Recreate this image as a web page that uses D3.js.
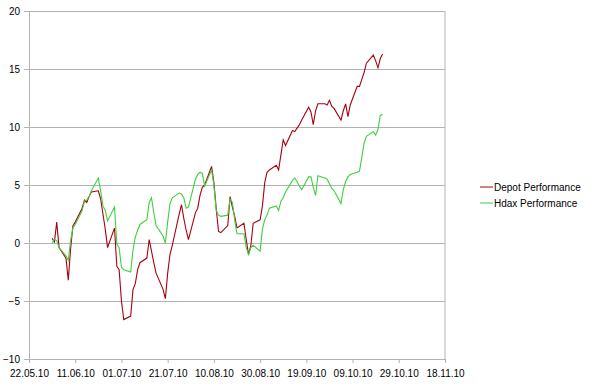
<!DOCTYPE html>
<html>
<head>
<meta charset="utf-8">
<script src="https://cdn.jsdelivr.net/npm/d3@7"></script>
<style>
  body { margin: 0; background: #fff; }
  text { font-family: Arial, "Liberation Sans", sans-serif; font-size: 10px; fill: #000; }
</style>
</head>
<body>
<svg id="chart"></svg>
<script>
// trading days, dd.mm.yy
let dates = [
  '01.06.10','02.06.10','03.06.10','04.06.10','07.06.10','08.06.10','09.06.10','10.06.10','11.06.10','14.06.10','15.06.10',
  '16.06.10','17.06.10','18.06.10','21.06.10','22.06.10','23.06.10','24.06.10','25.06.10','28.06.10','29.06.10','30.06.10',
  '01.07.10','02.07.10','05.07.10','06.07.10','07.07.10','08.07.10','09.07.10','12.07.10','13.07.10','14.07.10','15.07.10',
  '16.07.10','19.07.10','20.07.10','21.07.10','22.07.10','23.07.10','26.07.10','27.07.10','28.07.10','29.07.10','30.07.10',
  '02.08.10','03.08.10','04.08.10','05.08.10','06.08.10','09.08.10','10.08.10','11.08.10','12.08.10','13.08.10','16.08.10',
  '17.08.10','18.08.10','19.08.10','20.08.10','23.08.10','24.08.10','25.08.10','26.08.10','27.08.10','30.08.10','31.08.10',
  '01.09.10','02.09.10','03.09.10','06.09.10','07.09.10','08.09.10','09.09.10','10.09.10','13.09.10','14.09.10','15.09.10',
  '16.09.10','17.09.10','20.09.10','21.09.10','22.09.10','23.09.10','24.09.10','27.09.10','28.09.10','29.09.10','30.09.10',
  '01.10.10','04.10.10','05.10.10','06.10.10','07.10.10','08.10.10','11.10.10','12.10.10','13.10.10','14.10.10','15.10.10',
  '18.10.10','19.10.10','20.10.10','21.10.10','22.10.10'
]

let depot = [
  0.4, 0.1, 1.8, -0.4, -1.3, -3.2, -0.5, 1.5, 1.8, 3.0, 3.7, 3.5, 4.0, 4.4, 4.5, 3.8, 2.5, 1.2, -0.4, 1.3, -2.0, -2.3,
  -5.0, -6.6, -6.3, -4.0, -3.5, -2.3, -1.7, -1.3, 0.3, -0.7, -1.7, -2.6, -4.0, -4.8, -2.6, -1.0, -0.2, 2.5, 3.3, 2.1, 1.1, 0.3,
  2.6, 3.0, 4.1, 4.8, 5.0, 6.6, 5.2, 3.0, 1.0, 0.9, 1.5, 4.0, 3.1, 2.3, 1.3, 1.7, 0.3, -1.0, -0.2, 1.7, 2.0, 3.2,
  5.2, 6.1, 6.3, 6.7, 6.3, 7.6, 8.9, 8.4, 9.7, 9.6, 9.9, 10.2, 10.6, 11.7, 11.3, 10.2, 11.4, 12.0, 12.0, 11.9, 12.3, 11.8,
  11.6, 10.6, 11.4, 12.0, 10.9, 11.9, 13.5, 13.5, 14.1, 14.7, 15.5, 16.2, 15.7, 15.1, 15.9, 16.3
]

let hdax = [
  0.0, 0.3, 0.2, -0.4, -1.1, -1.5, 0.2, 1.3, 1.6, 2.8, 3.6, 3.7, 4.0, 4.5, 5.6, 4.5, 3.2, 2.8, 1.9, 3.1, -0.1, -0.4,
  -2.1, -2.3, -2.5, -0.6, 0.5, 1.1, 1.6, 2.0, 3.5, 3.9, 2.6, 1.5, 0.6, 0.0, 1.8, 3.4, 3.9, 4.3, 4.2, 3.9, 3.0, 3.1,
  5.5, 5.9, 6.1, 6.0, 4.9, 6.3, 5.0, 2.8, 2.4, 2.3, 2.4, 3.8, 3.5, 2.0, 0.8, 0.8, -0.4, -1.0, -0.4, -0.2, -0.7, 1.2,
  2.0, 2.4, 3.0, 3.2, 2.8, 3.6, 3.9, 4.4, 5.4, 5.6, 5.3, 4.9, 4.6, 5.7, 5.7, 4.8, 4.1, 5.8, 5.6, 5.5, 5.1, 4.7,
  4.5, 3.4, 4.6, 5.3, 5.7, 5.9, 6.1, 6.2, 7.4, 8.6, 9.2, 9.6, 9.3, 9.8, 11.0, 11.1
]

let seriesNames = ['Depot Performance', 'Hdax Performance']
let seriesColors = ['#a8000f', '#3fd03f']

let xTickLabels = ['22.05.10', '11.06.10', '01.07.10', '21.07.10', '10.08.10', '30.08.10', '19.09.10', '09.10.10', '29.10.10', '18.11.10']
let yTicks = [-10, -5, 0, 5, 10, 15, 20]

let width = 594
let height = 391
let plotLeft = 29
let plotRight = 445
let plotTop = 11
let plotBottom = 359

let parse = d3.timeParse('%d.%m.%y')
let fmt = d3.timeFormat('%d.%m.%y')

let svg = d3.select('#chart')
  .attr('width', width)
  .attr('height', height)

let xScale = d3.scaleTime()
  .domain([parse(xTickLabels[0]), parse(xTickLabels[xTickLabels.length - 1])])
  .range([plotLeft, plotRight])

let yScale = d3.scaleLinear()
  .domain([yTicks[0], yTicks[yTicks.length - 1]])
  .range([plotBottom, plotTop])

// grid
let grid = svg.append('g')
  .attr('transform', 'translate(' + plotLeft + ',0)')
  .call(d3.axisLeft(yScale).tickValues(yTicks).tickSize(-(plotRight - plotLeft)).tickFormat(''))
grid.select('.domain').remove()
grid.selectAll('line').attr('stroke', '#b3b3b3')

svg.append('line')
  .attr('x1', plotRight).attr('x2', plotRight)
  .attr('y1', plotTop).attr('y2', plotBottom)
  .attr('stroke', '#b3b3b3')

// axes
let yAxis = svg.append('g')
  .attr('transform', 'translate(' + plotLeft + ',0)')
  .call(d3.axisLeft(yScale).tickValues(yTicks).tickSize(5).tickPadding(4).tickSizeOuter(0))
yAxis.selectAll('line, path').attr('stroke', '#b3b3b3')
yAxis.selectAll('text').style('font-size', '10px').style('font-family', 'Arial, "Liberation Sans", sans-serif')

let xAxis = svg.append('g')
  .attr('transform', 'translate(0,' + plotBottom + ')')
  .call(d3.axisBottom(xScale).tickValues(xTickLabels.map(parse)).tickFormat(fmt).tickSize(4).tickPadding(7).tickSizeOuter(0))
xAxis.selectAll('line, path').attr('stroke', '#b3b3b3')
xAxis.selectAll('text').style('font-size', '10px').style('font-family', 'Arial, "Liberation Sans", sans-serif')

// lines
let line = d3.line()
  .x((d) => xScale(d[0]))
  .y((d) => yScale(d[1]))

let series = [depot, hdax]
series.forEach((vals, i) => {
  let pts = dates.map((s, j) => [parse(s), vals[j]])
  svg.append('path')
    .datum(pts)
    .attr('fill', 'none')
    .attr('stroke', seriesColors[i])
    .attr('stroke-width', 1.1)
    .attr('d', line)
})

// legend
let legend = svg.append('g')
seriesNames.forEach((name, i) => {
  let ly = 187 + i * 16
  legend.append('line')
    .attr('x1', 480).attr('x2', 493)
    .attr('y1', ly).attr('y2', ly)
    .attr('stroke', seriesColors[i])
  legend.append('text')
    .attr('x', 494)
    .attr('y', ly)
    .attr('dy', '0.35em')
    .text(name)
})
</script>
</body>
</html>
